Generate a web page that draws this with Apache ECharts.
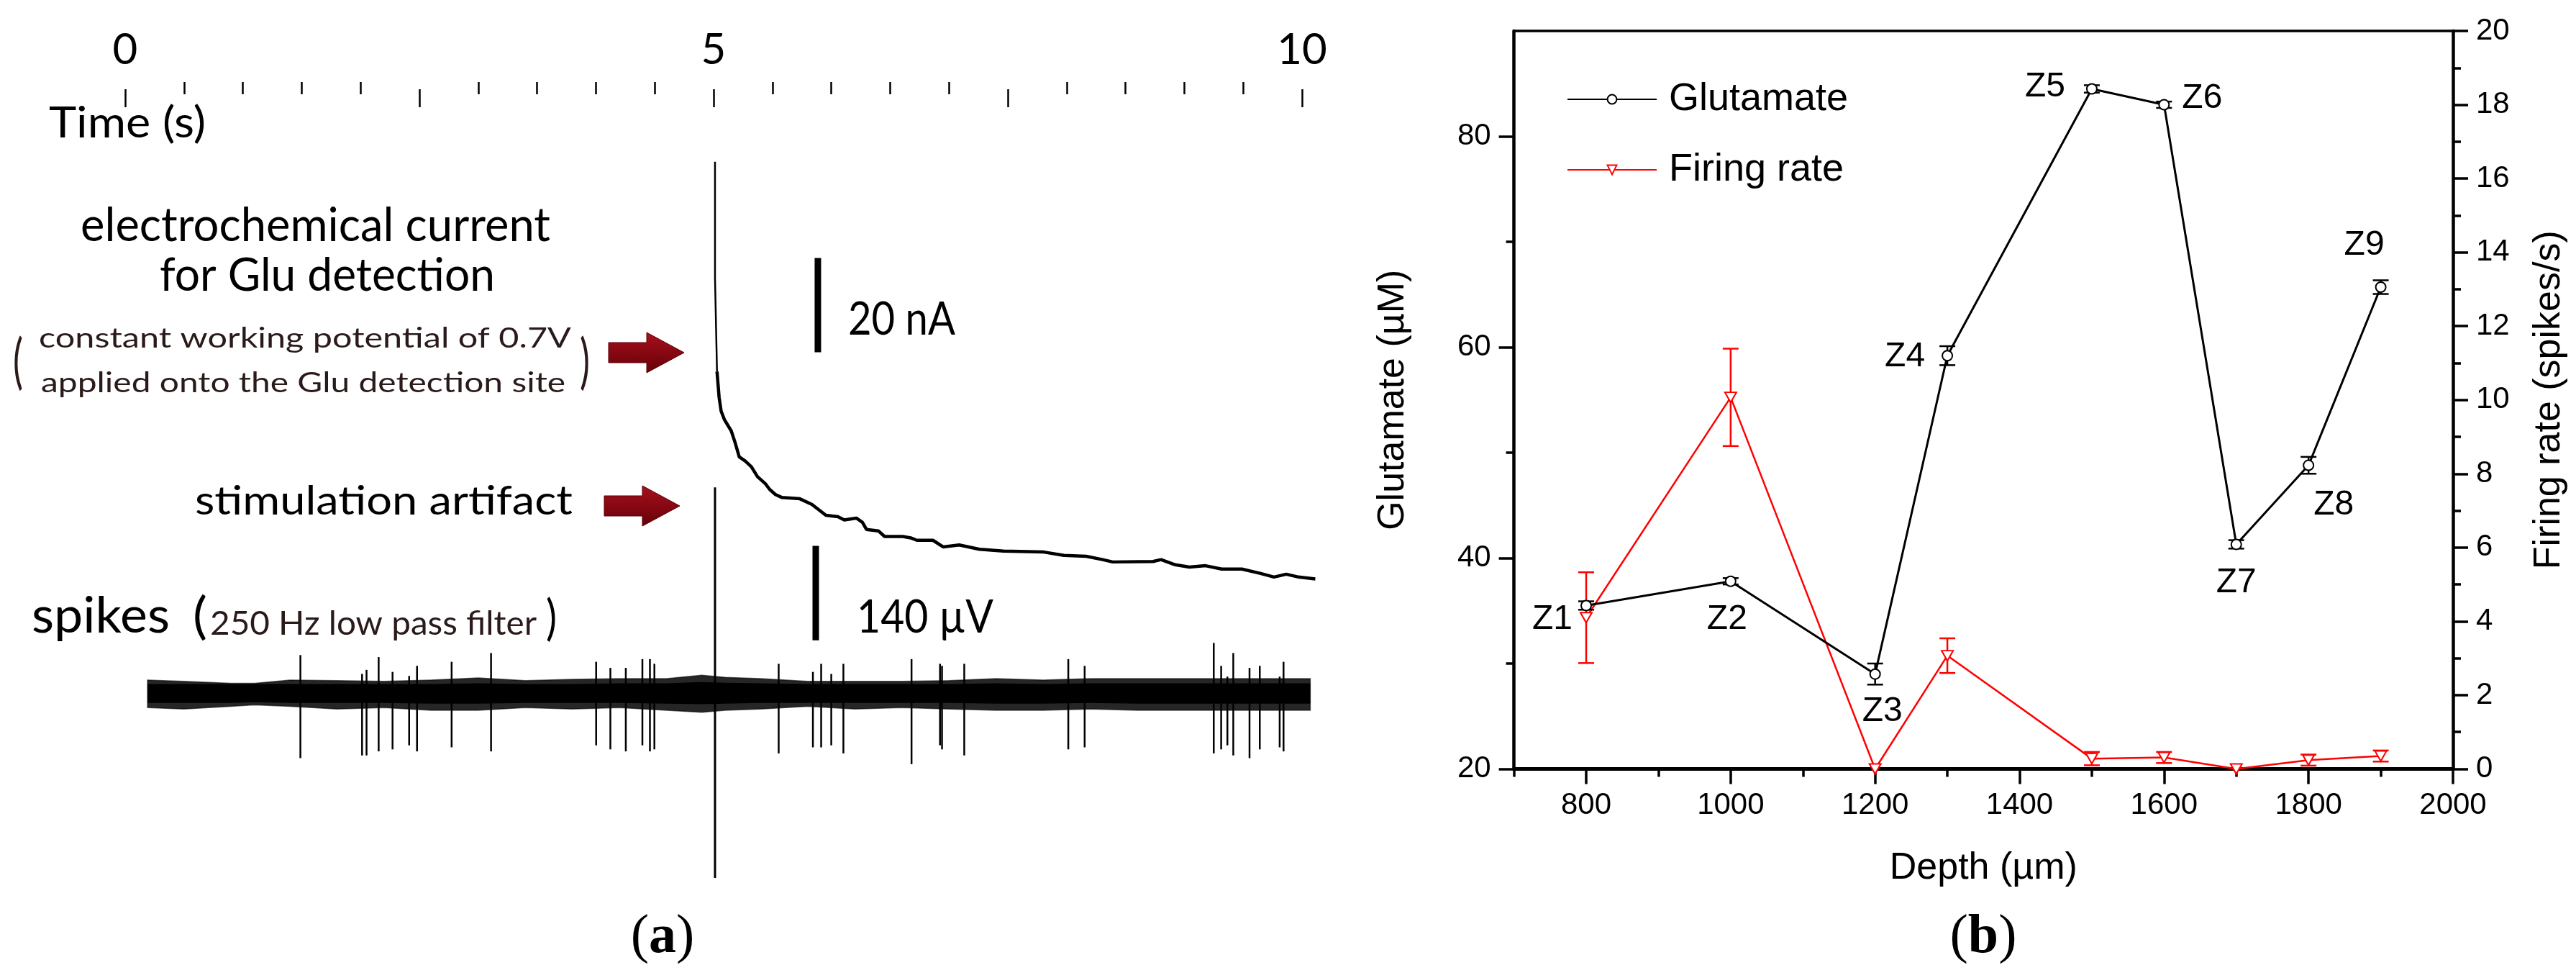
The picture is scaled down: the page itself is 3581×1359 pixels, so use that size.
<!DOCTYPE html>
<html>
<head>
<meta charset="utf-8">
<script src="https://cdn.jsdelivr.net/npm/echarts@6/dist/echarts.min.js"></script>
<style>
html,body{margin:0;padding:0;background:#fff;}
#chart{width:3581px;height:1359px;}
</style>
</head>
<body>
<div id="chart"></div>
<script>
// ---------------- Panel (a) data ----------------
const timeMajorTicks = [0, 2.5, 5, 7.5, 10];
const timeMinorTicks = [0.5, 1, 1.5, 2, 3, 3.5, 4, 4.5, 5.5, 6, 6.5, 7, 8, 8.5, 9, 9.5];
const timeLabels = [0, 5, 10];

// electrochemical current (nA, relative), time in s
const currentArtifactT = [5.012, 5.012, 5.029];
const currentArtifactNA = [92.4, 67.8, 47.9];
const currentT = [5.029, 5.047, 5.064, 5.092, 5.150, 5.183, 5.218, 5.269, 5.321, 5.373, 5.440, 5.476, 5.526, 5.578, 5.733, 5.836, 5.954, 6.057, 6.110, 6.213, 6.265, 6.299, 6.400, 6.453, 6.608, 6.675, 6.727, 6.864, 6.950, 7.087, 7.259, 7.463, 7.806, 7.977, 8.166, 8.306, 8.391, 8.734, 8.802, 8.923, 9.043, 9.180, 9.317, 9.489, 9.643, 9.762, 9.866, 9.970, 10.113];
const currentNA = [47.9, 42.4, 39.5, 37.7, 35.3, 32.8, 29.8, 28.9, 27.7, 25.6, 24.1, 22.9, 21.8, 21.2, 20.9, 19.7, 17.4, 17.1, 16.4, 16.8, 15.9, 14.4, 14.1, 12.9, 12.9, 12.6, 12.1, 12.1, 10.7, 11.1, 10.2, 9.8, 9.6, 8.9, 8.7, 8.0, 7.5, 7.6, 8.0, 6.9, 6.4, 6.7, 6.0, 6.0, 5.1, 4.3, 4.9, 4.3, 3.9];
const nABarT = [5.886, 5.886];
const nABar = [52, 72];

// spikes (µV): noise band outer fringe and solid core
const noiseT = [0.19, 0.5, 0.9, 1.1, 1.4, 1.8, 2.2, 2.6, 3.0, 3.4, 3.8, 4.2, 4.6, 4.9, 5.1, 5.4, 5.8, 6.2, 6.6, 7.0, 7.4, 7.8, 8.2, 8.6, 9.0, 9.4, 9.8, 10.07];
const noiseUpper = [21, 19, 16, 16, 21, 20, 19, 21, 24, 20, 22, 23, 23, 28, 25, 23, 19, 19, 19, 20, 23, 21, 23, 23, 23, 23, 23, 23];
const noiseLower = [-20, -22, -18, -16, -18, -22, -20, -24, -24, -20, -22, -20, -24, -27, -24, -22, -18, -22, -20, -22, -24, -24, -22, -24, -24, -24, -24, -24];
const noiseCoreUpper = [15, 15, 15, 15, 15, 15, 15, 15, 16, 15, 15, 16, 16, 18, 17, 16, 15, 15, 15, 15, 16, 15, 16, 16, 16, 16, 16, 16];
const noiseCoreLower = [-13, -13, -13, -12, -13, -13, -13, -14, -14, -13, -13, -13, -14, -15, -14, -13, -13, -13, -13, -13, -14, -14, -13, -14, -14, -14, -14, -14];
const spikeT = [1.489, 2.013, 2.051, 2.154, 2.272, 2.413, 2.480, 2.774, 3.109, 4.002, 4.123, 4.254, 4.395, 4.459, 4.497, 5.553, 5.844, 5.914, 6.000, 6.103, 6.682, 6.924, 6.941, 7.130, 8.014, 8.153, 9.250, 9.313, 9.366, 9.416, 9.554, 9.641, 9.810, 9.843];
const spikeUp = [58, 30, 36, 55, 33, 27, 42, 48, 61, 48, 39, 39, 52, 52, 45, 45, 33, 45, 30, 45, 52, 45, 42, 45, 52, 42, 76, 42, 26, 61, 39, 42, 26, 48];
const spikeDown = [-95, -91, -91, -85, -82, -76, -85, -79, -85, -76, -82, -85, -76, -85, -82, -88, -79, -79, -76, -88, -104, -76, -82, -91, -82, -79, -88, -82, -76, -91, -95, -82, -79, -85];
const artifactT = [5.012, 5.012];
const artifactUV = [307, -273];
const uVBarT = [5.868, 5.868];
const uVBar = [80, 220];

// ---------------- Panel (b) data ----------------
const depth = [800, 1000, 1200, 1300, 1500, 1600, 1700, 1800, 1900];
const zoneNames = ['Z1', 'Z2', 'Z3', 'Z4', 'Z5', 'Z6', 'Z7', 'Z8', 'Z9'];
const glutamate = [35.5, 37.8, 29.0, 59.2, 84.5, 83.0, 41.3, 48.8, 65.7];
const glutamateErr = [0.4, 0.3, 1.0, 0.9, 0.35, 0.3, 0.4, 0.8, 0.65];
const firingRate = [4.10, 10.07, 0, 3.07, 0.28, 0.31, 0, 0.24, 0.35];
const firingErr = [1.23, 1.32, 0, 0.47, 0.18, 0.15, 0, 0.15, 0.15];
const depthTicks = [800, 1000, 1200, 1400, 1600, 1800, 2000];
const depthMinorTicks = [700, 900, 1100, 1300, 1500, 1700, 1900];
const glutTicks = [20, 40, 60, 80];
const glutMinorTicks = [30, 50, 70];

// ---------------- layout helpers ----------------
const zip = (a, b) => a.map((v, i) => [v, b[i]]);
const mctx = document.createElement('canvas').getContext('2d');
function fitText(str, x0, x1, baseline, size, fill, family, weight) {
  family = family || 'Lato';
  weight = weight || 'normal';
  const font = weight + ' ' + size + 'px ' + family;
  mctx.font = font;
  const w = mctx.measureText(str).width;
  return {
    type: 'text', x: x0, y: baseline - 0.38 * size, scaleX: (x1 - x0) / w, silent: true,
    style: { text: str, font: font, fill: fill || '#000', textAlign: 'left', textVerticalAlign: 'middle' }
  };
}
function arrow(x0, xm, x1, cy, hs, hh) {
  return {
    type: 'polygon', silent: true,
    shape: { points: [[x0, cy - hs], [xm, cy - hs], [xm, cy - hh], [x1, cy], [xm, cy + hh], [xm, cy + hs], [x0, cy + hs]] },
    style: {
      fill: { type: 'linear', x: 0, y: 0, x2: 0, y2: 1, colorStops: [{ offset: 0, color: '#a8101c' }, { offset: 1, color: '#650008' }] },
      stroke: '#5a0006', lineWidth: 1
    }
  };
}
function bandRender(upper, lower, style) {
  return function (params, api) {
    if (params.dataIndex !== 0) return null;
    const pts = [];
    for (let i = 0; i < noiseT.length; i++) pts.push(api.coord([noiseT[i], upper[i]]));
    for (let i = noiseT.length - 1; i >= 0; i--) pts.push(api.coord([noiseT[i], lower[i]]));
    return { type: 'polygon', shape: { points: pts }, style: style };
  };
}
const zLabelOffsets = [[-47, 19], [-5, 53], [10, 52], [-59, 2], [-65, -3], [53, -9], [0, 53], [35, 55], [-23, -58]];
const darkText = '#2b1a1a';

function errRender(color, cap, lw) {
  return function (params, api) {
    const x = api.value(0), y = api.value(1), e = api.value(2);
    if (!e) return null;
    const t = api.coord([x, y + e]), b = api.coord([x, y - e]);
    const st = { stroke: color, lineWidth: lw };
    return {
      type: 'group', children: [
        { type: 'line', shape: { x1: t[0], y1: t[1], x2: b[0], y2: b[1] }, style: st },
        { type: 'line', shape: { x1: t[0] - cap, y1: t[1], x2: t[0] + cap, y2: t[1] }, style: st },
        { type: 'line', shape: { x1: b[0] - cap, y1: b[1], x2: b[0] + cap, y2: b[1] }, style: st }
      ]
    };
  };
}

const fontB = 'Liberation Sans';

const chart = echarts.init(document.getElementById('chart'));
const option = {
  animation: false,
  backgroundColor: '#fff',
  grid: [
    { left: 174, top: 114, width: 1636, height: 10 },
    { left: 174, top: 175, width: 1668.7, height: 655 },
    { left: 174, top: 646.3, width: 1668.7, height: 636.5 },
    { left: 2104.6, top: 43, width: 1305.4, height: 1025.5 }
  ],
  xAxis: [
    { gridIndex: 0, type: 'value', position: 'top', min: 0, max: 10,
      axisLine: { show: false }, splitLine: { show: false },
      axisTick: { customValues: timeMajorTicks, inside: true, length: 25, lineStyle: { color: '#000', width: 2.5 } },
      axisLabel: { customValues: timeLabels, fontSize: 60, fontFamily: 'Lato', color: '#000', margin: 14 } },
    { gridIndex: 0, type: 'value', position: 'top', min: 0, max: 10,
      axisLine: { show: false }, splitLine: { show: false },
      axisTick: { customValues: timeMinorTicks, inside: true, length: 17, lineStyle: { color: '#000', width: 2.5 } },
      axisLabel: { show: false } },
    { gridIndex: 1, type: 'value', min: 0, max: 10.2, show: false },
    { gridIndex: 2, type: 'value', min: 0, max: 10.2, show: false },
    { gridIndex: 3, type: 'value', position: 'bottom', min: 700, max: 2000,
      axisLine: { lineStyle: { color: '#000', width: 5 } }, splitLine: { show: false },
      axisTick: { customValues: depthTicks, length: 21, lineStyle: { color: '#000', width: 3.5 } },
      axisLabel: { customValues: depthTicks, fontSize: 42, fontFamily: fontB, color: '#000', margin: 30,
        formatter: v => String(v) },
      name: 'Depth (µm)', nameLocation: 'middle', nameGap: 112,
      nameTextStyle: { fontSize: 52, fontFamily: fontB, color: '#000' } },
    { gridIndex: 3, type: 'value', position: 'bottom', min: 700, max: 2000,
      axisLine: { show: false }, splitLine: { show: false },
      axisTick: { customValues: depthMinorTicks, length: 11, lineStyle: { color: '#000', width: 3.5 } },
      axisLabel: { show: false } },
    { gridIndex: 3, type: 'value', position: 'top', min: 700, max: 2000,
      axisLine: { lineStyle: { color: '#000', width: 3.5 } }, splitLine: { show: false },
      axisTick: { show: false }, axisLabel: { show: false } }
  ],
  yAxis: [
    { gridIndex: 0, type: 'value', min: 0, max: 1, show: false },
    { gridIndex: 1, type: 'value', min: 0, max: 100, show: false },
    { gridIndex: 2, type: 'value', min: -340, max: 340, show: false },
    { gridIndex: 3, type: 'value', position: 'left', min: 20, max: 90,
      axisLine: { show: true, lineStyle: { color: '#000', width: 4.5 } }, splitLine: { show: false },
      axisTick: { show: true, customValues: glutTicks, length: 21, lineStyle: { color: '#000', width: 3.5 } },
      axisLabel: { customValues: glutTicks, fontSize: 42, fontFamily: fontB, color: '#000', margin: 32 },
      name: 'Glutamate (µM)', nameLocation: 'middle', nameGap: 142,
      nameTextStyle: { fontSize: 52, fontFamily: fontB, color: '#000' } },
    { gridIndex: 3, type: 'value', position: 'left', min: 20, max: 90,
      axisLine: { show: false }, splitLine: { show: false },
      axisTick: { show: true, customValues: glutMinorTicks, length: 11, lineStyle: { color: '#000', width: 3.5 } },
      axisLabel: { show: false } },
    { gridIndex: 3, type: 'value', position: 'right', min: 0, max: 20, interval: 2,
      axisLine: { show: true, lineStyle: { color: '#000', width: 4.5 } }, splitLine: { show: false },
      axisTick: { show: true, length: 21, lineStyle: { color: '#000', width: 3.5 } },
      minorTick: { show: true, splitNumber: 2, length: 11, lineStyle: { color: '#000', width: 3.5 } },
      axisLabel: { fontSize: 42, fontFamily: fontB, color: '#000', margin: 32 },
      name: 'Firing rate (spikes/s)', nameLocation: 'middle', nameGap: 108, nameRotate: 90,
      nameTextStyle: { fontSize: 52, fontFamily: fontB, color: '#000' } }
  ],
  legend: {
    data: ['Glutamate', 'Firing rate'], orient: 'vertical', left: 2173, top: 106,
    itemWidth: 124, itemHeight: 16, itemGap: 44, selectedMode: false,
    textStyle: { fontSize: 54, fontFamily: fontB, color: '#000', padding: [0, 0, 0, 12] }
  },
  series: [
    { type: 'line', xAxisIndex: 2, yAxisIndex: 1, data: zip(currentArtifactT, currentArtifactNA), symbol: 'none', silent: true,
      lineStyle: { color: '#000', width: 2.5 } },
    { type: 'line', xAxisIndex: 2, yAxisIndex: 1, data: zip(currentT, currentNA), symbol: 'none', silent: true,
      lineStyle: { color: '#000', width: 4.5 } },
    { type: 'line', xAxisIndex: 2, yAxisIndex: 1, data: zip(nABarT, nABar), symbol: 'none', silent: true,
      lineStyle: { color: '#000', width: 9, cap: 'butt' } },
    { type: 'custom', xAxisIndex: 3, yAxisIndex: 2, silent: true, data: [[noiseT[0], 0]],
      encode: { x: 0, y: 1 },
      renderItem: bandRender(noiseUpper, noiseLower, { fill: 'rgba(0,0,0,0.85)', stroke: 'rgba(0,0,0,0.6)', lineWidth: 1.5 }) },
    { type: 'custom', xAxisIndex: 3, yAxisIndex: 2, silent: true, data: [[noiseT[0], 0]],
      encode: { x: 0, y: 1 },
      renderItem: bandRender(noiseCoreUpper, noiseCoreLower, { fill: '#000' }) },
    { type: 'custom', xAxisIndex: 3, yAxisIndex: 2, silent: true,
      data: spikeT.map((t, i) => [t, spikeUp[i], spikeDown[i]]),
      encode: { x: 0, y: [1, 2] },
      renderItem: function (params, api) {
        const a = api.coord([api.value(0), api.value(1)]);
        const b = api.coord([api.value(0), api.value(2)]);
        return { type: 'line', shape: { x1: a[0], y1: a[1], x2: b[0], y2: b[1] }, style: { stroke: '#000', lineWidth: 2.5 } };
      } },
    { type: 'line', xAxisIndex: 3, yAxisIndex: 2, data: zip(artifactT, artifactUV), symbol: 'none', silent: true,
      lineStyle: { color: '#000', width: 3 } },
    { type: 'line', xAxisIndex: 3, yAxisIndex: 2, data: zip(uVBarT, uVBar), symbol: 'none', silent: true,
      lineStyle: { color: '#000', width: 9, cap: 'butt' } },
    // panel b
    { type: 'custom', xAxisIndex: 4, yAxisIndex: 5, silent: true,
      data: depth.map((d, i) => [d, firingRate[i], firingErr[i]]), encode: { x: 0, y: 1 },
      renderItem: errRender('#ff0000', 11, 2.5), z: 3 },
    { type: 'line', name: 'Firing rate', xAxisIndex: 4, yAxisIndex: 5, data: zip(depth, firingRate),
      symbol: 'triangle', symbolRotate: 180, symbolSize: [16, 14], showAllSymbol: true,
      lineStyle: { color: '#ff0000', width: 2.5 },
      itemStyle: { color: '#fff', borderColor: '#ff0000', borderWidth: 2 }, z: 4 },
    { type: 'custom', xAxisIndex: 4, yAxisIndex: 3, silent: true,
      data: depth.map((d, i) => [d, glutamate[i], glutamateErr[i]]), encode: { x: 0, y: 1 },
      renderItem: errRender('#000', 11, 2.5), z: 5 },
    { type: 'line', name: 'Glutamate', xAxisIndex: 4, yAxisIndex: 3,
      data: depth.map((d, i) => ({ value: [d, glutamate[i]], label: { offset: zLabelOffsets[i] } })),
      symbol: 'circle', symbolSize: 14, showAllSymbol: true,
      lineStyle: { color: '#000', width: 3 },
      itemStyle: { color: '#fff', borderColor: '#000', borderWidth: 2 },
      label: { show: true, position: 'inside', fontSize: 48, fontFamily: fontB, color: '#000',
        formatter: p => zoneNames[p.dataIndex] }, z: 6 }
  ],
  graphic: [
    fitText('Time (s)', 68, 286, 194, 60, '#000'),
    fitText('electrochemical current', 112, 765, 339, 66, '#000'),
    fitText('for Glu detection', 222, 688, 408, 64, '#000'),
    fitText('(', 18, 32, 536, 84, darkText),
    fitText('constant working potential of 0.7V', 54, 794, 485, 38, darkText),
    fitText('applied onto the Glu detection site', 57, 786, 547, 38, darkText),
    fitText(')', 806, 820, 536, 84, darkText),
    arrow(846, 899, 951, 490, 14, 28),
    fitText('20 nA', 1179, 1328, 469, 64, '#000'),
    fitText('stimulation artifact', 271, 796, 718, 56, '#000'),
    arrow(840, 893, 945, 703, 14, 28),
    fitText('spikes', 44, 236, 883, 70, '#000'),
    fitText('(', 268, 288, 884, 70, '#000'),
    fitText('250 Hz low pass filter', 292, 746, 885, 46, darkText),
    fitText(')', 759, 774, 886, 68, '#000'),
    fitText('140 µV', 1191, 1381, 883, 63, '#000'),
    { type: 'text', x: 921, y: 1303, silent: true,
      style: { text: '({bb|a})', font: '76px Liberation Serif', fill: '#000', textAlign: 'center', textVerticalAlign: 'middle',
        rich: { bb: { fontWeight: 'bold', fontSize: 76, fontFamily: 'Liberation Serif', fill: '#000' } } } },
    { type: 'text', x: 2757, y: 1303, silent: true,
      style: { text: '({bb|b})', font: '76px Liberation Serif', fill: '#000', textAlign: 'center', textVerticalAlign: 'middle',
        rich: { bb: { fontWeight: 'bold', fontSize: 76, fontFamily: 'Liberation Serif', fill: '#000' } } } }
  ]
};
chart.setOption(option);
</script>
</body>
</html>
